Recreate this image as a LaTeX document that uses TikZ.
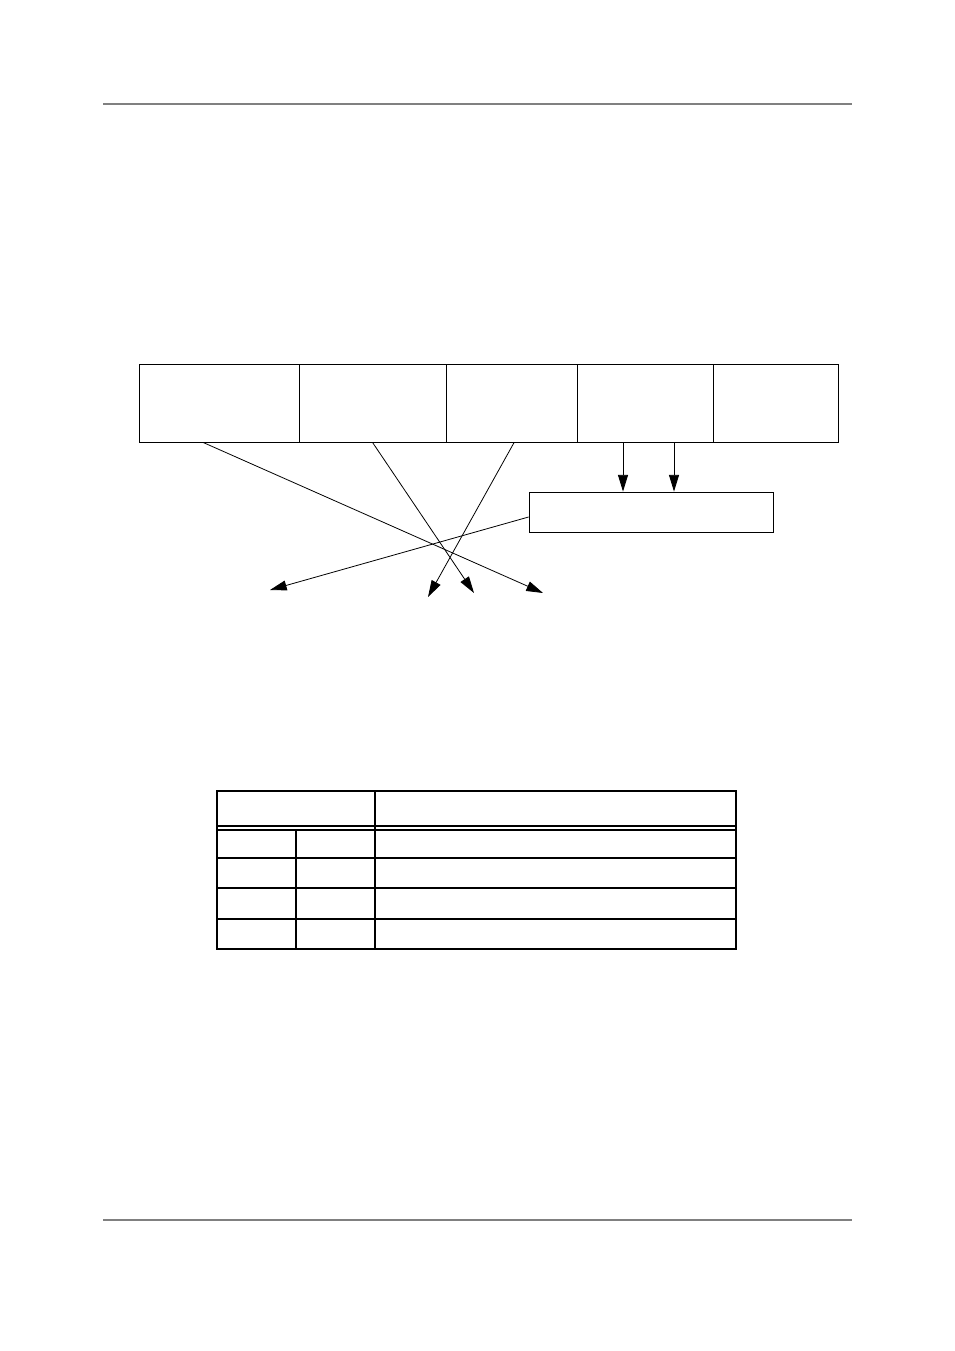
\documentclass[tikz,border=0pt]{standalone}
\usetikzlibrary{arrows.meta,fit}

\tikzset{
  field/.style={draw,inner sep=0pt,line width=0.6pt},
  link/.style={line width=0.6pt,-{Triangle[length=12.5pt,width=7.5pt]}},
  rule/.style={draw=gray,line width=0.8pt},
  grid/.style={line width=1.1pt}
}

\begin{document}
\begin{tikzpicture}[x=0.75pt,y=-0.75pt]
\useasboundingbox (0,0) rectangle (954,1351);
  \draw[rule] (103,104) -- (852,104);
  \draw[rule] (103,1220) -- (852,1220);
  %
  \node[field,fit={(139,364) (299,442)}] (f1) {};
  \node[field,fit={(299,364) (446,442)}] (f2) {};
  \node[field,fit={(446,364) (577,442)}] (f3) {};
  \node[field,fit={(577,364) (713,442)}] (f4) {};
  \node[field,fit={(713,364) (838,442)}] (f5) {};
  \node[field,fit={(529,492) (773,532)}] (reg) {};
  %
  \coordinate (o1) at (270,590);
  \coordinate (o2) at (428,597);
  \coordinate (o3) at (474,593);
  \coordinate (o4) at (543,593);
  %
  \draw[link] ([xshift=-16.5pt]f4.south) -- ([xshift=-16.5pt]f4.south |- reg.north);
  \draw[link] ([xshift=21.75pt]f4.south) -- ([xshift=21.75pt]f4.south |- reg.north);
  \draw[link] ([xshift=-12pt]f1.south) -- (o4);
  \draw[link] (f2.south) -- (o3);
  \draw[link] ([xshift=2pt]f3.south) -- (o2);
  \draw[link] ([yshift=-3.75pt]reg.west) -- (o1);
  %
  \draw[grid] (217,791) rectangle (736,949);
  \draw[grid] (217,826) -- (736,826);
  \draw[grid] (217,830) -- (736,830);
  \draw[grid] (375,791) -- (375,949);
  \draw[grid] (296,830) -- (296,949);
  \foreach \y in {858,888,919}
    \draw[grid] (217,\y) -- (736,\y);
\end{tikzpicture}
\end{document}
